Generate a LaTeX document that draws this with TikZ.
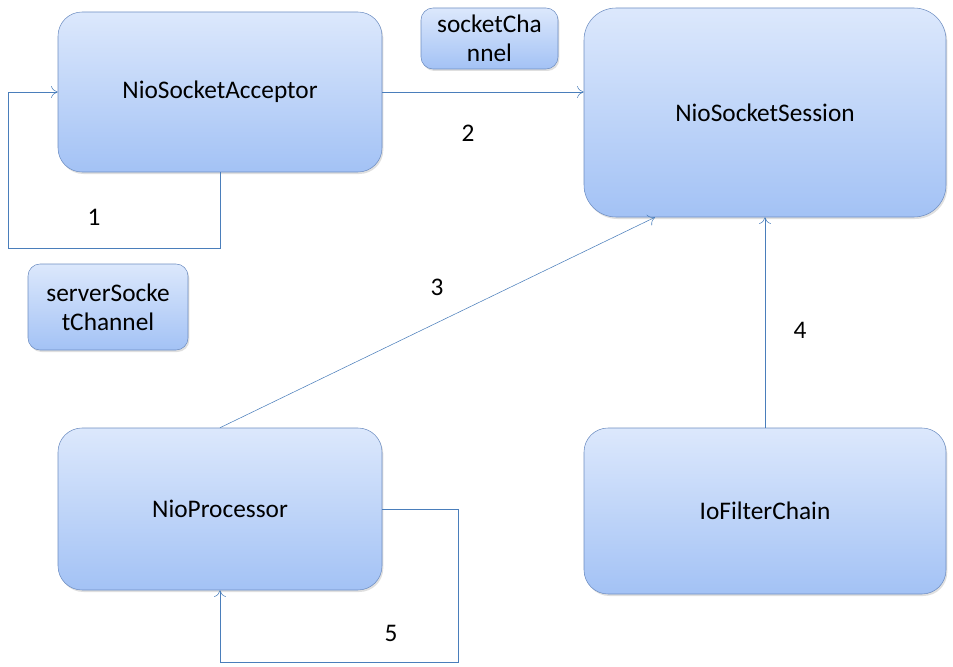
\documentclass[tikz,border=0pt]{standalone}
\usepackage{fontspec}
\setmainfont{Carlito}
\usetikzlibrary{shadows,arrows.meta}
\definecolor{boxtop}{HTML}{DCE8FC}
\definecolor{boxbot}{HTML}{A3C2F5}
\definecolor{boxline}{HTML}{6E8EC2}
\definecolor{linkblue}{HTML}{4A7EBB}
\tikzset{
  box/.style={draw=boxline, rounded corners=18pt, top color=boxtop, bottom color=boxbot,
    drop shadow={opacity=0.25, shadow xshift=1pt, shadow yshift=-1.5pt},
    align=center, inner sep=0pt},
  smallbox/.style={box, rounded corners=9pt},
  link/.style={draw=linkblue, -{To[length=5pt,width=9pt]}}
}
\begin{document}
\begin{tikzpicture}[x=0.75pt,y=-0.75pt,font=\fontsize{19}{22}\selectfont]
\useasboundingbox (0,0) rectangle (953,667);
% main boxes
\node[box, minimum width=243pt, minimum height=120pt] (acceptor) at (220,92) {NioSocketAcceptor};
\node[box, rounded corners=24pt, minimum width=271.5pt, minimum height=156.75pt] (session) at (765,112.5) {NioSocketSession};
\node[box, minimum width=243pt, minimum height=121.5pt] (processor) at (220,509) {NioProcessor};
\node[box, minimum width=271.5pt, minimum height=124.5pt] (chain) at (765,511) {IoFilterChain};
% channel boxes
\node[smallbox, minimum width=102.75pt, minimum height=45.75pt] (sockch) at (489.5,38.5) {socketCha\\nnel};
\node[smallbox, minimum width=120pt, minimum height=64.5pt] (serverch) at (108,307) {serverSocke\\tChannel};
% connectors
\coordinate (c1) at (8,248);
\coordinate (c5) at (458,662);
\draw[link] (acceptor.south) |- (c1) |- (acceptor.west);
\draw[link] (acceptor.east) -- (acceptor.east -| session.west);
\draw[link] (processor.north) -- ([xshift=-82.5pt]session.south);
\draw[link] (chain.north) -- (session.south);
\draw[link] (processor.east) -| (c5) -| (processor.south);
% step numbers
\node (n1) at (94,217) {1};
\node (n2) at (468,133) {2};
\node (n3) at (437,287) {3};
\node (n4) at (800,330) {4};
\node (n5) at (391,633) {5};
\end{tikzpicture}
\end{document}
